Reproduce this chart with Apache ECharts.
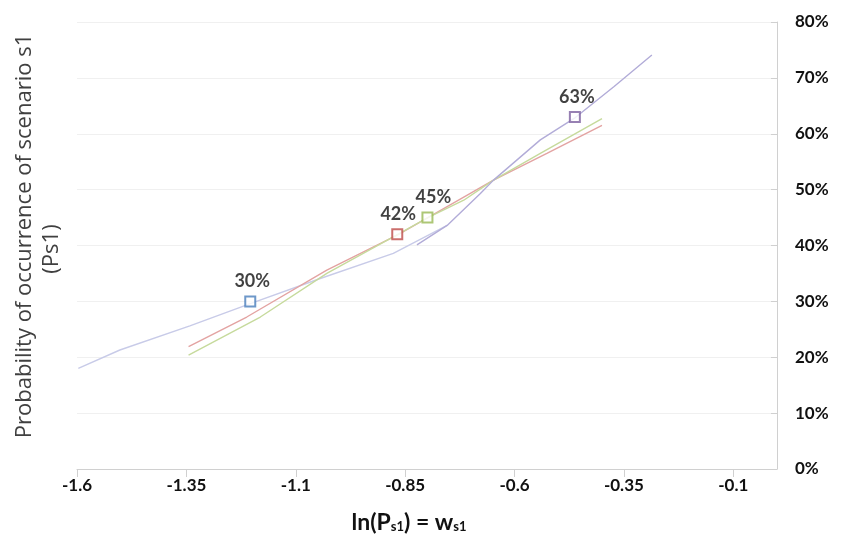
<!DOCTYPE html>
<html>
<head>
<meta charset="utf-8">
<script src="https://cdn.jsdelivr.net/npm/echarts@6/dist/echarts.min.js"></script>
<style>
  html, body { margin: 0; padding: 0; background: #fff; }
  #chart { width: 841px; height: 554px; }
</style>
</head>
<body>
<div id="chart"></div>
<script>
// x ticks / labels
const xTicks = [-1.6, -1.35, -1.1, -0.85, -0.6, -0.35, -0.1];

// traced curves: [ln(Ps1), Ps1]
const blueLine = [
  [-1.597, 0.180], [-1.502, 0.213], [-1.342, 0.256], [-1.204, 0.296],
  [-1.044, 0.341], [-0.877, 0.386], [-0.754, 0.436]
];
const redLine = [
  [-1.345, 0.219], [-1.212, 0.272], [-1.029, 0.356], [-0.867, 0.419],
  [-0.648, 0.517], [-0.526, 0.565], [-0.400, 0.615]
];
const greenLine = [
  [-1.345, 0.204], [-1.181, 0.272], [-1.029, 0.350], [-0.876, 0.416],
  [-0.798, 0.450], [-0.716, 0.481], [-0.648, 0.517], [-0.541, 0.565],
  [-0.400, 0.627]
];
const purpleLine = [
  [-0.823, 0.401], [-0.754, 0.436], [-0.678, 0.493], [-0.648, 0.517],
  [-0.541, 0.589], [-0.461, 0.629], [-0.373, 0.684], [-0.286, 0.741]
];

// highlighted points
const markerX = [-1.204, -0.868, -0.799, -0.462];
const markerY = [0.30, 0.42, 0.45, 0.63];
const markerLabels = ["30%", "42%", "45%", "63%"];
const markerColors = ["#4a7ebb", "#be4b48", "#98b954", "#7d60a0"];

const chart = echarts.init(document.getElementById("chart"));

const lineSeries = (data, color) => ({
  type: "line",
  data: data,
  showSymbol: false,
  smooth: false,
  lineStyle: { width: 1.4, color: color },
  z: 2
});

const markerSeries = markerX.map((x, i) => ({
  type: "scatter",
  data: [[x, markerY[i]]],
  symbol: "rect",
  symbolSize: 10,
  itemStyle: { color: "#fff", borderColor: markerColors[i], borderWidth: 2 },
  label: {
    show: true,
    position: "top",
    distance: 5,
    offset: i === 1 ? [1, 0] : i === 2 ? [6, 0] : [2, 0],
    formatter: markerLabels[i],
    fontFamily: "Lato",
    fontWeight: "bold",
    fontSize: 18,
    color: "#111"
  },
  z: 5
}));

const option = {
  backgroundColor: "#fff",
  animation: false,
  grid: { left: 77, right: 64, top: 22, bottom: 85 },
  xAxis: {
    type: "value",
    min: -1.6,
    max: 0,
    axisLine: { show: true, onZero: false, lineStyle: { color: "#d0d0d0", width: 1 } },
    axisTick: { show: true, customValues: xTicks, length: 8, lineStyle: { color: "#d0d0d0" } },
    axisLabel: {
      customValues: xTicks,
      margin: 8,
      fontFamily: "Lato",
      fontWeight: "bold",
      fontSize: 17,
      color: "#111",
      formatter: (v) => String(v)
    },
    splitLine: { show: false },
    name: "{a|ln(P}{s|s1}{a|) = w}{s|s1}",
    nameLocation: "middle",
    nameGap: 42,
    nameTextStyle: {
      padding: [0, 36, 0, 0],
      rich: {
        a: { fontFamily: "Lato", fontWeight: "bold", fontSize: 23, color: "#111" },
        s: { fontFamily: "Lato", fontWeight: "bold", fontSize: 13, color: "#111", padding: [8, 0, 0, 0] }
      }
    }
  },
  yAxis: {
    type: "value",
    position: "right",
    min: 0,
    max: 0.8,
    interval: 0.1,
    axisLine: { show: true, lineStyle: { color: "#d0d0d0", width: 1 } },
    axisTick: { show: true, inside: true, length: 6, lineStyle: { color: "#d0d0d0" } },
    axisLabel: {
      margin: 18,
      fontFamily: "Lato",
      fontWeight: "bold",
      fontSize: 17,
      color: "#111",
      formatter: (v) => Math.round(v * 100) + "%"
    },
    splitLine: { show: true, lineStyle: { color: "#f0f0f0", width: 1 } }
  },
  graphic: [
    {
      type: "text",
      x: 25,
      y: 236,
      rotation: Math.PI / 2,
      style: {
        text: "Probability of occurrence of scenario s1",
        font: "22px 'Open Sans'",
        fill: "#404040",
        align: "center",
        verticalAlign: "middle"
      }
    },
    {
      type: "text",
      x: 52,
      y: 249,
      rotation: Math.PI / 2,
      style: {
        text: "(Ps1)",
        font: "22px 'Open Sans'",
        fill: "#404040",
        align: "center",
        verticalAlign: "middle"
      }
    }
  ],
  series: [
    lineSeries(blueLine, "#c8cbe8"),
    lineSeries(redLine, "#e3a3a2"),
    lineSeries(greenLine, "#c6da9c"),
    lineSeries(purpleLine, "#b2acd8"),
    ...markerSeries
  ]
};

chart.setOption(option);
</script>
</body>
</html>
